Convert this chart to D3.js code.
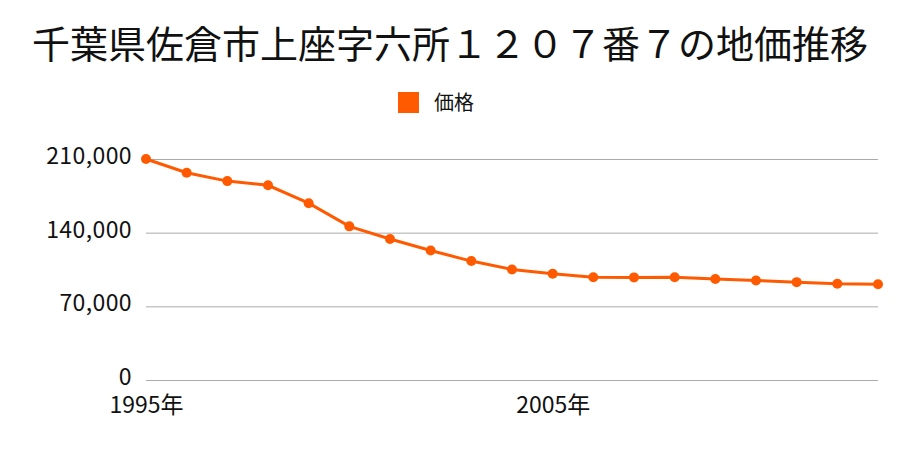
<!DOCTYPE html>
<html lang="ja">
  <head>
    <meta charset="UTF-8" />
    <title>地価推移</title>
    <style>
      body { margin: 0; background: #fff; }
      text { font-family: "Noto Sans CJK JP", "Noto Sans", sans-serif; }
    </style>
  </head>
  <body>
    <script src="https://d3js.org/d3.v7.min.js"></script>
    <script>
      const years = [1995, 1996, 1997, 1998, 1999, 2000, 2001, 2002, 2003, 2004,
        2005, 2006, 2007, 2008, 2009, 2010, 2011, 2012, 2013]
      const prices = [210000, 197000, 189000, 185000, 168000, 146000, 134000, 123000, 113000, 105000,
        101000, 97700, 97500, 97700, 96000, 94500, 93000, 91500, 91000]
      const yTicks = [0, 70000, 140000, 210000]
      const xTicks = [1995, 2005]
      const title = '千葉県佐倉市上座字六所１２０７番７の地価推移'
      const seriesName = '価格'

      const width = 900
      const height = 450
      const color = '#ff5a00'

      let padding = { top: 159, bottom: 70, left: 146, right: 22 }

      let svg = d3.select('body').append('svg')
      svg.attr('width', width).attr('height', height)

      const x = d3
        .scaleLinear()
        .domain([years[0], years[years.length - 1]])
        .range([padding.left, width - padding.right])

      const y = d3
        .scaleLinear()
        .domain([0, 210000])
        .range([height - padding.bottom, padding.top])

      // title
      svg.append('text')
        .attr('x', width / 2)
        .attr('y', 58)
        .attr('text-anchor', 'middle')
        .attr('font-size', 38)
        .attr('fill', '#111')
        .text(title)

      // legend
      svg.append('rect')
        .attr('x', 398).attr('y', 92)
        .attr('width', 21).attr('height', 21)
        .attr('fill', color)
      svg.append('text')
        .attr('x', 434).attr('y', 110)
        .attr('font-size', 20)
        .attr('fill', '#111')
        .text(seriesName)

      // grid
      svg.append('g')
        .selectAll('line')
        .data(yTicks)
        .enter()
        .append('line')
        .attr('x1', padding.left)
        .attr('x2', width - padding.right)
        .attr('y1', d => y(d) + 0.5)
        .attr('y2', d => y(d) + 0.5)
        .attr('stroke', '#aaa')
        .attr('stroke-width', 1)

      const yAxis = g =>
        g
          .attr('transform', `translate(${padding.left - 14},-3)`)
          .call(d3.axisLeft(y).tickValues(yTicks).tickSize(0).tickPadding(0)
            .tickFormat(d3.format(',')))
          .call(g => g.select('.domain').remove())
          .call(g => g.selectAll('text')
            .attr('font-size', 23)
            .attr('letter-spacing', 0.4)
            .attr('fill', '#111')
            .attr('font-family', '"Noto Sans", sans-serif'))

      const xAxis = g =>
        g
          .attr('transform', `translate(0,${height - padding.bottom})`)
          .call(d3.axisBottom(x).tickValues(xTicks).tickSize(0).tickPadding(17)
            .tickFormat(d => d + '年'))
          .call(g => g.select('.domain').remove())
          .call(g => g.selectAll('text')
            .attr('font-size', 23)
            .attr('fill', '#111')
            .attr('font-family', '"Noto Sans CJK JP", sans-serif'))

      svg.append('g').call(yAxis)
      svg.append('g').call(xAxis)

      const line = d3.line()
        .x((d, i) => x(years[i]))
        .y(d => y(d))

      svg.append('path')
        .datum(prices)
        .attr('fill', 'none')
        .attr('stroke', color)
        .attr('stroke-width', 3)
        .attr('d', line)

      svg.append('g')
        .selectAll('circle')
        .data(prices)
        .enter()
        .append('circle')
        .attr('cx', (d, i) => x(years[i]))
        .attr('cy', d => y(d))
        .attr('r', 5)
        .attr('fill', color)
    </script>
  </body>
</html>
